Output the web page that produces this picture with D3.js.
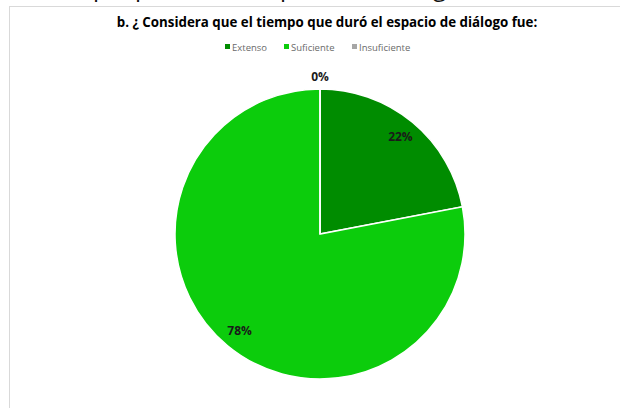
<!DOCTYPE html>
<html>
<head>
<meta charset="utf-8">
<script src="https://cdn.jsdelivr.net/npm/d3@7"></script>
<style>
  html, body { margin: 0; padding: 0; background: #fff; }
  svg { display: block; }
</style>
</head>
<body>
<script>
const title = "b. ¿ Considera que el tiempo que duró el espacio de diálogo fue:";
const categories = ["Extenso", "Suficiente", "Insuficiente"];
const values = [22, 78, 0];
const colors = ["#008C00", "#0CCC0C", "#A6A6A6"];
const percentLabels = ["22%", "78%", "0%"];

const W = 620, H = 408;
const svg = d3.select("body").append("svg").attr("width", W).attr("height", H);

svg.append("rect").attr("width", W).attr("height", H).attr("fill", "#fff");

// cut-off document text descenders at very top
const topGlyphs = [{t: "p", x: 93}, {t: "p", x: 135}, {t: "p", x: 280}, {t: "g", x: 433}];
svg.selectAll("text.top").data(topGlyphs).join("text")
  .attr("class", "top")
  .attr("x", d => d.x).attr("y", -4)
  .attr("font-family", "Open Sans, sans-serif")
  .attr("font-size", 24)
  .attr("fill", "#111")
  .text(d => d.t);

// chart frame
svg.append("rect").attr("x", 9.5).attr("y", 6.5).attr("width", W).attr("height", H)
  .attr("fill", "#fff").attr("stroke", "#d9d9d9").attr("stroke-width", 1);

// title
const t = svg.append("text")
  .attr("x", 327).attr("y", 27)
  .attr("text-anchor", "middle")
  .attr("font-family", "Open Sans, sans-serif")
  .attr("font-weight", "bold")
  .attr("font-size", 13)
  .attr("fill", "#000")
  .text(title);
const tw = t.node().getComputedTextLength();
t.attr("font-size", 13 * 421 / tw);

// legend
const legendX = [225, 284, 352];
const lg = svg.append("g");
categories.forEach((c, i) => {
  lg.append("rect").attr("x", legendX[i]).attr("y", 44).attr("width", 5).attr("height", 5).attr("fill", colors[i]);
  lg.append("text").attr("x", legendX[i] + 7).attr("y", 50.5)
    .attr("font-family", "Open Sans, sans-serif").attr("font-size", 9.5)
    .attr("fill", "#6a6a6a").text(c);
});

// pie
const cx = 320, cy = 234, R = 145;
const pie = d3.pie().sort(null).value(d => d)(values);
const arc = d3.arc().innerRadius(0).outerRadius(R);
const g = svg.append("g").attr("transform", `translate(${cx},${cy})`);
g.selectAll("path").data(pie).join("path")
  .attr("d", arc)
  .attr("fill", (d, i) => colors[i])
  .attr("stroke", "#fff")
  .attr("stroke-width", 1.5);

// labels
const inner = d3.arc().innerRadius(R * 0.87).outerRadius(R * 0.87);
const outer = d3.arc().innerRadius(R + 12).outerRadius(R + 12);
g.selectAll("text.lbl").data(pie).join("text")
  .attr("class", "lbl")
  .attr("transform", d => `translate(${(d.value === 0 ? outer : inner).centroid(d)})`)
  .attr("text-anchor", "middle")
  .attr("dy", "0.35em")
  .attr("font-family", "Open Sans, sans-serif")
  .attr("font-weight", "bold")
  .attr("font-size", 12)
  .attr("fill", "#1a1a1a")
  .text((d, i) => percentLabels[i]);
</script>
</body>
</html>
